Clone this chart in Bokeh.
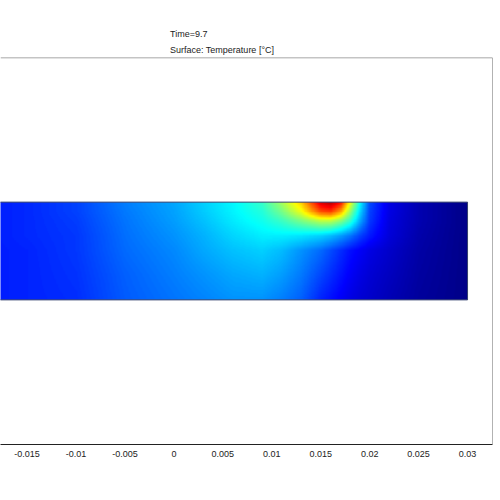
import numpy as np
from bokeh.plotting import figure
from bokeh.models import (LinearColorMapper, FixedTicker, Span, Title, Range1d)
from bokeh.embed import file_html
from bokeh.resources import INLINE

# ---- data ----
title_time = "Time=9.7"
title_expr = "Surface: Temperature [°C]"

tick_values = [-0.015, -0.01, -0.005, 0.0, 0.005, 0.01, 0.015, 0.02, 0.025, 0.03]
tick_labels = ["-0.015", "-0.01", "-0.005", "0", "0.005", "0.01", "0.015", "0.02", "0.025", "0.03"]

# sample positions of the temperature field (m)
field_x = [-0.020, -0.015, -0.010, -0.005, 0.000, 0.003, 0.006, 0.009, 0.011, 0.013,
           0.014, 0.015, 0.016, 0.017, 0.018, 0.019, 0.020, 0.022, 0.025, 0.030]
field_y = [0.005, 0.004, 0.003, 0.0015, 0.0, -0.0025, -0.005]

# normalised temperature (0 = coldest, 1 = hottest), one row per field_y
temp_y0 = [0.15, 0.165, 0.19, 0.25, 0.29, 0.33, 0.37, 0.43, 0.54, 0.68, 0.80, 0.92, 0.96, 0.88, 0.62, 0.38, 0.20, 0.10, 0.05, 0.01]
temp_y1 = [0.15, 0.165, 0.19, 0.245, 0.285, 0.325, 0.365, 0.41, 0.49, 0.61, 0.71, 0.80, 0.82, 0.72, 0.52, 0.34, 0.19, 0.10, 0.05, 0.01]
temp_y2 = [0.15, 0.165, 0.185, 0.24, 0.28, 0.315, 0.355, 0.39, 0.43, 0.49, 0.52, 0.55, 0.55, 0.50, 0.42, 0.29, 0.18, 0.095, 0.05, 0.01]
temp_y3 = [0.15, 0.165, 0.18, 0.235, 0.27, 0.30, 0.335, 0.36, 0.36, 0.35, 0.34, 0.33, 0.31, 0.28, 0.24, 0.19, 0.15, 0.09, 0.045, 0.01]
temp_y4 = [0.15, 0.16, 0.18, 0.23, 0.26, 0.29, 0.315, 0.33, 0.31, 0.27, 0.25, 0.23, 0.20, 0.17, 0.14, 0.12, 0.10, 0.075, 0.04, 0.01]
temp_y5 = [0.15, 0.16, 0.175, 0.22, 0.25, 0.27, 0.29, 0.30, 0.28, 0.245, 0.22, 0.195, 0.17, 0.145, 0.12, 0.10, 0.085, 0.065, 0.035, 0.01]
temp_y6 = [0.15, 0.16, 0.17, 0.215, 0.24, 0.255, 0.27, 0.27, 0.25, 0.22, 0.19, 0.16, 0.14, 0.12, 0.10, 0.085, 0.075, 0.055, 0.03, 0.01]

# ---- build display grid (smooth rendering of the sampled field) ----
rows = np.array([temp_y0, temp_y1, temp_y2, temp_y3, temp_y4, temp_y5, temp_y6])
fx = np.array(field_x)
fy = np.array(field_y)
nx, ny = 700, 140
gx = np.linspace(fx.min(), fx.max(), nx)
gy = np.linspace(fy.min(), fy.max(), ny)  # bottom -> top
tmp = np.array([np.interp(gx, fx, r) for r in rows])  # rows top->bottom
fy_asc = fy[::-1]
tmp_asc = tmp[::-1]
img = np.empty((ny, nx))
for j in range(nx):
    img[:, j] = np.interp(gy, fy_asc, tmp_asc[:, j])


def jet_palette(n=256):
    out = []
    for i in range(n):
        v = i / (n - 1)
        r = np.clip(1.5 - abs(4 * v - 3), 0, 1)
        g = np.clip(1.5 - abs(4 * v - 2), 0, 1)
        b = np.clip(1.5 - abs(4 * v - 1), 0, 1)
        out.append("#%02x%02x%02x" % (int(r * 255), int(g * 255), int(b * 255)))
    return out


mapper = LinearColorMapper(palette=jet_palette(), low=0.0, high=1.0)

# ---- figure ----
x_start, x_end = -0.01772, 0.03255
y_half = 0.0198

p = figure(width=500, height=490, output_backend="svg", toolbar_location=None,
           x_range=Range1d(x_start, x_end), y_range=Range1d(-y_half, y_half),
           y_axis_location=None, min_border_left=0, min_border_right=8,
           min_border_top=57, min_border_bottom=46)
p.outline_line_color = None
p.grid.visible = False
p.background_fill_color = "white"
p.border_fill_color = "white"

p.image(image=[img], x=fx.min(), y=fy.min(), dw=fx.max() - fx.min(),
        dh=fy.max() - fy.min(), color_mapper=mapper)
p.quad(left=[fx.min()], right=[fx.max()], bottom=[fy.min()], top=[fy.max()],
       fill_color=None, line_color="#34406e", line_width=1)

ax = p.xaxis[0]
ax.ticker = FixedTicker(ticks=tick_values)
ax.major_label_overrides = {v: s for v, s in zip(tick_values, tick_labels)}
ax.major_tick_line_color = None
ax.minor_tick_line_color = None
ax.major_tick_out = 0
ax.major_tick_in = 0
ax.major_label_standoff = 6
ax.axis_line_color = "#222222"
ax.major_label_text_font = "Liberation Sans"
ax.major_label_text_font_size = "9px"
ax.major_label_text_color = "#222222"

p.add_layout(Span(location=y_half, dimension="width", line_color="#8a8a8a", line_width=1.5))
p.add_layout(Span(location=x_end, dimension="height", line_color="#666666", line_width=1))

for txt, so in [(title_expr, 5), (title_time, 3)]:
    p.add_layout(Title(text=txt, align="left", offset=169.5, text_font="Liberation Sans",
                       text_font_size="9px", text_font_style="normal",
                       text_color="#222222", standoff=so), "above")

open("out.html", "w").write(file_html(p, INLINE))
